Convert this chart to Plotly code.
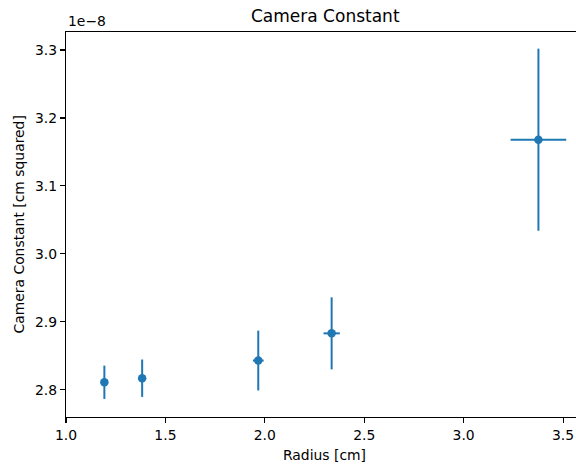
import plotly.graph_objects as go

# Data (camera constant in units of 1e-8 cm^2)
radius = [1.193, 1.383, 1.967, 2.336, 3.376]
camera_const = [2.811, 2.817, 2.843, 2.883, 3.168]
camera_err = [0.0245, 0.0275, 0.044, 0.053, 0.134]
radius_err = [0.008, 0.008, 0.027, 0.041, 0.14]
x_ticks = [1.0, 1.5, 2.0, 2.5, 3.0, 3.5]
y_ticks = [2.8, 2.9, 3.0, 3.1, 3.2, 3.3]

BLUE = "#1f77b4"
FONT = "DejaVu Sans"

fig = go.Figure()
fig.add_trace(go.Scatter(
    x=radius, y=camera_const, mode="markers",
    marker=dict(color=BLUE, size=8.5),
    error_y=dict(type="data", array=camera_err, visible=True, color=BLUE, thickness=2, width=0),
    error_x=dict(type="data", array=radius_err, visible=True, color=BLUE, thickness=2, width=0),
    showlegend=False,
))

W, H = 576, 464
# plot box in page pixels
PL, PT, PB = 66, 32, 417
L, T, B, R = PL, PT, H - PB, 0
PW = W - L - R

fig.update_layout(
    width=W, height=H,
    margin=dict(l=L, r=R, t=T, b=B, autoexpand=False),
    paper_bgcolor="white", plot_bgcolor="white",
    font=dict(family=FONT, size=13.9, color="black"),
    hovermode=False,
    xaxis=dict(
        range=[1.0, 3.565], tickvals=x_ticks, ticktext=[f"{v:.1f}" for v in x_ticks],
        showgrid=False, zeroline=False, showline=True, linecolor="black", linewidth=1.1,
        mirror=True, ticks="outside", ticklen=5, tickwidth=1.1, tickcolor="black",
        automargin=False,
    ),
    yaxis=dict(
        range=[2.7599, 3.3265], tickvals=y_ticks, ticktext=[f"{v:.1f}" for v in y_ticks],
        showgrid=False, zeroline=False, showline=True, linecolor="black", linewidth=1.1,
        mirror=False, ticks="outside", ticklen=5, tickwidth=1.1, tickcolor="black",
        automargin=False,
    ),
    annotations=[
        dict(text="Camera Constant", x=(325 - PL) / PW, y=1, xref="paper", yref="paper",
             xanchor="center", yanchor="middle", yshift=PT - 16, showarrow=False,
             font=dict(family=FONT, size=17, color="black")),
        dict(text="1e\u22128", x=0, y=1.0, xref="paper", yref="paper",
             xanchor="left", yanchor="bottom", yshift=1, showarrow=False,
             font=dict(family=FONT, size=13.9, color="black")),
        dict(text="Radius [cm]", x=(324 - PL) / PW, y=0, xref="paper", yref="paper",
             xanchor="center", yanchor="middle", yshift=-(454.5 - PB), showarrow=False,
             font=dict(family=FONT, size=13.9, color="black")),
        dict(text="Camera Constant [cm squared]", x=0, y=0.5, xref="paper", yref="paper",
             xanchor="center", yanchor="middle", xshift=-(PL - 18), textangle=-90,
             showarrow=False, font=dict(family=FONT, size=13.9, color="black")),
    ],
)

fig.write_html(
    "out.html",
    config={"displayModeBar": False, "staticPlot": True},
    post_script="document.body.style.margin='0';document.body.style.overflow='hidden';",
)
